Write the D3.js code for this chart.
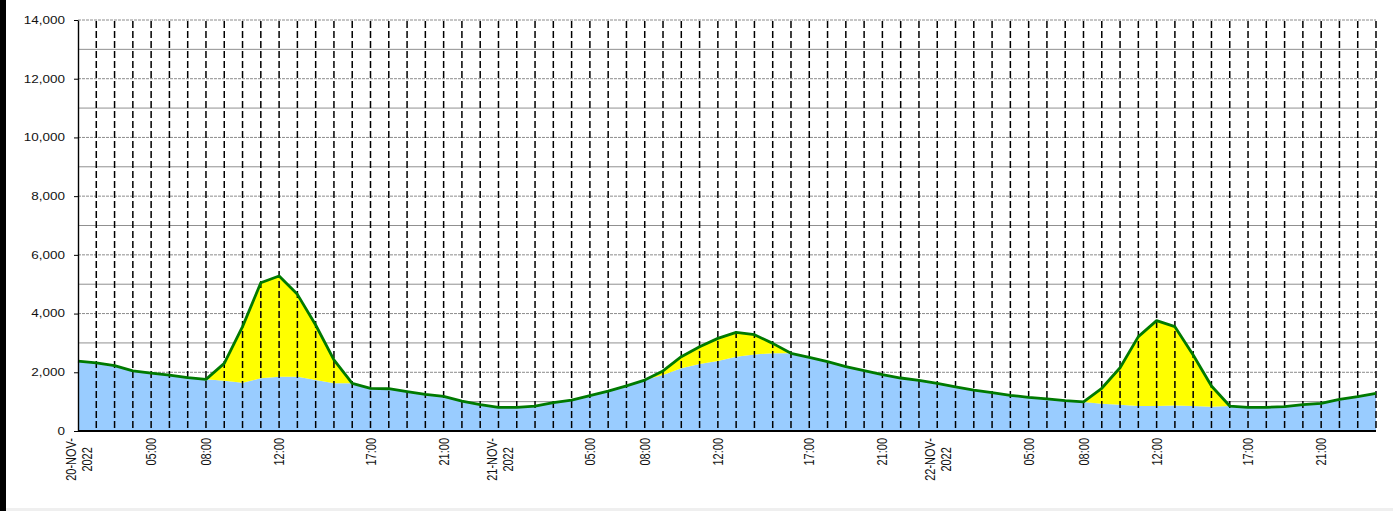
<!DOCTYPE html>
<html>
<head>
<meta charset="utf-8">
<script src="https://cdn.jsdelivr.net/npm/d3@7"></script>
<style>
  body { margin: 0; background: #fff; }
  text { font-family: "Liberation Sans", Arial, sans-serif; fill: #111; }
</style>
</head>
<body>
<script>
// hourly samples from 20-NOV-2022 00:00 to 22-NOV-2022 23:00 (one hour missing on day one)

var blueValues = [
  2380, 2320, 2225, 2045, 1975, 1905, 1815, 1760,
  1715, 1645, 1795, 1850, 1850, 1735, 1625, 1625,
  1455, 1440, 1340, 1250, 1180, 1020, 900, 805,
  805, 850, 965, 1055, 1205, 1360, 1535, 1735,
  1905, 2135, 2280, 2385, 2530, 2610, 2645, 2645,
  2510, 2360, 2190, 2055, 1920, 1805, 1725, 1625,
  1500, 1395, 1305, 1215, 1145, 1095, 1035, 990,
  930, 895, 850, 850, 865, 850, 830, 850,
  805, 805, 830, 895, 940, 1080, 1170, 1285
];

var yellowValues = [
  0, 0, 0, 0, 0, 0, 0, 0,
  590, 1910, 3255, 3430, 2805, 1875, 795, 0,
  0, 0, 0, 0, 0, 0, 0, 0,
  0, 0, 0, 0, 0, 0, 0, 0,
  140, 395, 590, 770, 830, 670, 340, 0,
  0, 0, 0, 0, 0, 0, 0, 0,
  0, 0, 0, 0, 0, 0, 0, 0,
  525, 1260, 2365, 2910, 2690, 1740, 705, 0,
  0, 0, 0, 0, 0, 0, 0, 0
];

var tickIndex = [0, 4, 7, 11, 16, 20, 23, 28, 31, 35, 40, 44, 47, 52, 55, 59, 64, 68];
var tickLabels = ["20-NOV-2022", "05:00", "08:00", "12:00", "17:00", "21:00",
                  "21-NOV-2022", "05:00", "08:00", "12:00", "17:00", "21:00",
                  "22-NOV-2022", "05:00", "08:00", "12:00", "17:00", "21:00"];

var yTicks = [0, 2000, 4000, 6000, 8000, 10000, 12000, 14000];
var yGridLines = [1000, 2000, 3000, 4000, 5000, 6000, 7000, 8000, 9000, 10000, 11000, 12000, 13000, 14000];

var width = 1393,
    height = 511;

// the picture is stretched sideways, text too
var stretch = 1.35;

var svg = d3.select("body")
            .append("svg")
            .attr("width", width)
            .attr("height", height);

var x = d3.scalePoint()
    .domain(d3.range(blueValues.length))
    .range([78, 1376]);

var y = d3.scaleLinear()
    .domain([0, 14000])
    .range([431, 20]);

// frame bits
svg.append("rect")
    .attr("x", 0).attr("y", 0)
    .attr("width", 6).attr("height", height)
    .attr("fill", "#000");
svg.append("rect")
    .attr("x", 6).attr("y", 508)
    .attr("width", width).attr("height", 3)
    .attr("fill", "#efefef");

// horizontal grid (behind the areas)
svg.append("g")
  .selectAll("line")
  .data(yGridLines)
  .join("line")
    .attr("x1", x.range()[0])
    .attr("x2", x.range()[1])
    .attr("y1", function(d) { return y(d); })
    .attr("y2", function(d) { return y(d); })
    .attr("stroke", function(d) { return d % 2000 ? "#909090" : "#8c8c8c"; })
    .attr("stroke-width", 1)
    .attr("stroke-dasharray", function(d) { return d % 2000 ? null : "3,1"; });

var rows = blueValues.map(function(v, i) {
    return { i: i, blue: v, yellow: yellowValues[i] };
});

var series = d3.stack().keys(["blue", "yellow"])(rows);
var colors = { blue: "#99ccff", yellow: "#ffff00" };

var area = d3.area()
    .x(function(d) { return x(d.data.i); })
    .y0(function(d) { return y(d[0]); })
    .y1(function(d) { return y(d[1]); });

svg.append("g")
  .selectAll("path")
  .data(series)
  .join("path")
    .attr("fill", function(d) { return colors[d.key]; })
    .attr("d", area);

// vertical dashed lines, one per sample
svg.append("g")
  .selectAll("line")
  .data(d3.range(1, blueValues.length))
  .join("line")
    .attr("x1", function(d) { return x(d); })
    .attr("x2", function(d) { return x(d); })
    .attr("y1", y(14000) + 1)
    .attr("y2", y(0))
    .attr("stroke", "#000")
    .attr("stroke-width", 1.5)
    .attr("stroke-dasharray", "7,3");

// total outline
var line = d3.line()
    .x(function(d) { return x(d.data.i); })
    .y(function(d) { return y(d[1]); });

svg.append("path")
    .datum(series[1])
    .attr("fill", "none")
    .attr("stroke", "#007a00")
    .attr("stroke-width", 2.8)
    .attr("stroke-linejoin", "round")
    .attr("d", line);

// y axis
var yAxis = svg.append("g")
    .attr("transform", "translate(" + x.range()[0] + ",0)")
    .call(d3.axisLeft(y)
        .tickValues(yTicks)
        .tickSize(4)
        .tickSizeOuter(0)
        .tickFormat(d3.format(",")));

yAxis.select(".domain").attr("stroke", "#000").attr("stroke-width", 1.4);
yAxis.selectAll(".tick line").attr("stroke", "#000");
yAxis.selectAll(".tick text")
    .attr("font-family", null)
    .attr("font-size", 10)
    .attr("x", -13 / stretch)
    .attr("dy", "0.34em")
    .attr("transform", "scale(" + stretch + ",1)");

// x axis line
svg.append("line")
    .attr("x1", x.range()[0])
    .attr("x2", x.range()[1])
    .attr("y1", y(0))
    .attr("y2", y(0))
    .attr("stroke", "#000")
    .attr("stroke-width", 2);

// rotated x labels
var labels = svg.append("g")
  .selectAll("g")
  .data(tickIndex)
  .join("g")
    .attr("transform", function(d) {
        return "translate(" + x(d) + ",438) scale(" + 1.3 + ",1) rotate(-90)";
    });

labels.each(function(d, k) {
    var g = d3.select(this);
    var label = tickLabels[k];
    if (label.length > 5) {
        var first = g.append("text")
            .attr("font-size", 11)
            .attr("text-anchor", "end")
            .attr("x", 0)
            .attr("y", -1.5)
            .text(label.slice(0, 7));
        var w = first.node().getComputedTextLength();
        g.append("text")
            .attr("font-size", 11)
            .attr("text-anchor", "middle")
            .attr("x", -w / 2)
            .attr("y", 10.8)
            .text(label.slice(7));
    } else {
        g.append("text")
            .attr("font-size", 11)
            .attr("text-anchor", "end")
            .attr("x", 0)
            .attr("y", 3.9)
            .text(label);
    }
});
</script>
</body>
</html>
